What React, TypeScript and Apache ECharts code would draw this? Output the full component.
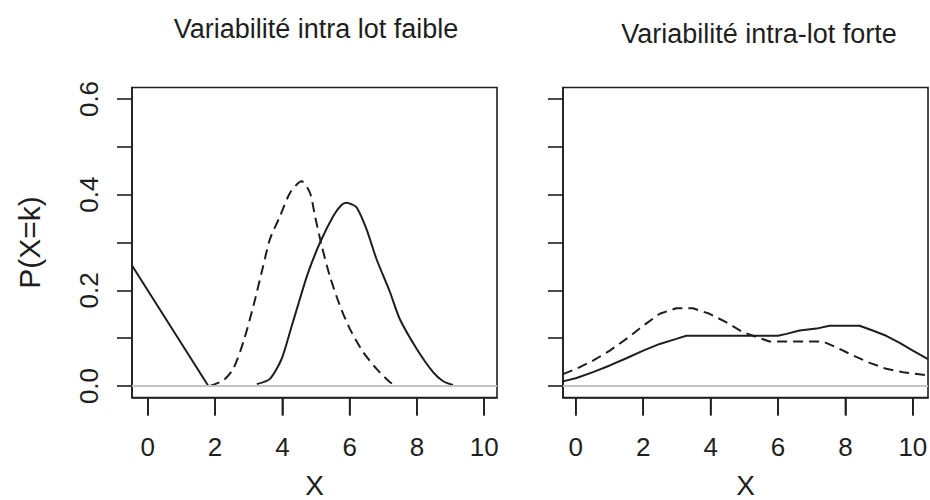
import React, { useEffect, useRef } from "react";
import * as echarts from "echarts";

// Left panel: "Variabilité intra lot faible"
const leftLineX = [-0.47, 1.8, 3.24];
const leftLineY = [0.252, 0, 0];
const leftSolidX = [3.24, 3.63, 3.98, 4.28, 4.52, 4.77, 5.12, 5.51, 5.75, 5.91, 6.05, 6.21, 6.5, 6.8, 7.2, 7.49, 7.99, 8.48, 8.78, 9.07];
const leftSolidY = [0.004, 0.015, 0.057, 0.126, 0.182, 0.238, 0.3, 0.355, 0.378, 0.383, 0.38, 0.373, 0.328, 0.265, 0.196, 0.14, 0.078, 0.029, 0.01, 0.002];
const leftDashX = [1.85, 2.25, 2.54, 2.84, 3.14, 3.43, 3.63, 3.93, 4.23, 4.57, 4.82, 4.97, 5.17, 5.41, 5.71, 6.01, 6.4, 6.8, 7.2, 7.45];
const leftDashY = [0, 0.012, 0.036, 0.092, 0.168, 0.251, 0.307, 0.355, 0.404, 0.428, 0.404, 0.355, 0.293, 0.23, 0.168, 0.119, 0.071, 0.036, 0.008, 0];

// Right panel: "Variabilité intra-lot forte"
const rightSolidX = [-0.38, 0.02, 0.51, 1.01, 1.5, 2.0, 2.49, 2.98, 3.28, 6.0, 6.25, 6.64, 7.14, 7.53, 8.42, 8.81, 9.21, 9.61, 10.0, 10.45];
const rightSolidY = [0.0097, 0.0167, 0.029, 0.043, 0.058, 0.074, 0.088, 0.0985, 0.105, 0.105, 0.109, 0.116, 0.12, 0.126, 0.126, 0.116, 0.105, 0.09, 0.074, 0.056];
const rightDashX = [-0.38, 0.02, 0.51, 1.01, 1.5, 2.0, 2.49, 2.98, 3.48, 3.97, 4.47, 4.96, 5.46, 5.75, 7.33, 7.73, 8.22, 8.72, 9.21, 9.71, 10.45];
const rightDashY = [0.025, 0.036, 0.053, 0.074, 0.0985, 0.126, 0.151, 0.1625, 0.1625, 0.151, 0.133, 0.1125, 0.1, 0.093, 0.093, 0.081, 0.064, 0.0485, 0.036, 0.029, 0.022];

const xTickStep = 2;
const xTicks = [0, 2, 4, 6, 8, 10];
const yTicks = [0, 0.1, 0.2, 0.3, 0.4, 0.5, 0.6];
const yLabels = [0, 0.2, 0.4, 0.6];
const titles = ["Variabilité intra lot faible", "Variabilité intra-lot forte"];

const zip = (xs: number[], ys: number[]) => xs.map((x, i) => [x, ys[i]]);

const FONT = "Liberation Sans, Arial, Helvetica, sans-serif";
const INK = "#1e1e1e";
const Y_MIN = -0.024;
const Y_MAX = 0.624;

export default function App() {
  const ref = useRef<HTMLDivElement>(null);
  useEffect(() => {
    if (!ref.current) return;
    const chart = echarts.init(ref.current, undefined, { renderer: "svg" });
    const xRanges = [
      [-0.47, 10.38],
      [-0.38, 10.45],
    ];
    const mkX = (i: number) => ({
      type: "value",
      gridIndex: i,
      min: xRanges[i][0],
      max: xRanges[i][1],
      splitNumber: 5,
      minInterval: xTickStep,
      maxInterval: xTickStep,
      name: "X",
      nameLocation: "middle",
      nameGap: 74,
      nameTextStyle: { fontSize: 28, color: INK, fontFamily: FONT },
      axisLine: { show: true, onZero: false, lineStyle: { color: INK, width: 1.6 } },
      splitLine: { show: false },
      axisTick: { show: true, length: 18, lineStyle: { color: INK, width: 1.6 } },
      axisLabel: { margin: 36, fontSize: 26, color: INK, fontFamily: FONT, showMinLabel: false, showMaxLabel: false },
    });
    const mkY = (i: number) => ({
      type: "value",
      gridIndex: i,
      position: "left",
      min: Y_MIN,
      max: Y_MAX,
      name: i === 0 ? "P(X=k)" : "",
      nameLocation: "middle",
      nameGap: 88,
      nameTextStyle: { fontSize: 30, color: INK, fontFamily: FONT },
      axisLine: { show: true, onZero: false, lineStyle: { color: INK, width: 1.6 } },
      splitLine: { show: false },
      axisTick: { show: true, inside: false, customValues: yTicks, length: 15, lineStyle: { color: INK, width: 1.6 } },
      axisLabel: {
        show: i === 0,
        customValues: yLabels,
        rotate: 90,
        margin: 30,
        fontSize: 26,
        color: INK,
        fontFamily: FONT,
        formatter: (v: number) => v.toFixed(1),
      },
    });
    const line = (i: number, data: number[][], dashed: boolean, smooth: number | boolean) => ({
      type: "line",
      xAxisIndex: i,
      yAxisIndex: i,
      data,
      showSymbol: false,
      symbol: "none",
      smooth,
      lineStyle: { color: INK, width: 2, type: dashed ? [10, 6] : "solid" },
      clip: true,
      silent: true,
      z: 2,
    });
    const zero = (i: number) => ({
      type: "line",
      xAxisIndex: i,
      yAxisIndex: i,
      data: [
        [xRanges[i][0], 0],
        [xRanges[i][1], 0],
      ],
      symbol: "none",
      lineStyle: { color: "#c4c4c4", width: 2 },
      silent: true,
      z: 3,
    });
    const gridBase = {
      top: 87.5,
      width: 365,
      height: 310,
      show: true,
      borderColor: INK,
      borderWidth: 1.6,
      backgroundColor: "transparent",
      containLabel: false,
      outerBoundsMode: "none",
    };
    chart.setOption({
      animation: false,
      backgroundColor: "#ffffff",
      textStyle: { fontFamily: FONT },
      title: [
        { text: titles[0], left: 311, top: 10, textAlign: "center", textStyle: { fontSize: 27, fontWeight: "normal", color: INK, fontFamily: FONT } },
        { text: titles[1], left: 754, top: 15, textAlign: "center", textStyle: { fontSize: 27, fontWeight: "normal", color: INK, fontFamily: FONT } },
      ],
      grid: [
        { ...gridBase, left: 132 },
        { ...gridBase, left: 563 },
      ],
      xAxis: [mkX(0), mkX(1)],
      yAxis: [mkY(0), mkY(1)],
      series: [
        line(0, zip(leftLineX, leftLineY), false, false),
        line(0, zip(leftSolidX, leftSolidY), false, 0.25),
        line(0, zip(leftDashX, leftDashY), true, 0.25),
        zero(0),
        line(1, zip(rightSolidX, rightSolidY), false, false),
        line(1, zip(rightDashX, rightDashY), true, false),
        zero(1),
      ],
    });
    // x-axis tick marks below each box, positioned through the axis scales
    const tickEls: any[] = [];
    [0, 1].forEach((g) => {
      xTicks.forEach((v) => {
        const p = chart.convertToPixel({ gridIndex: g } as any, [v, Y_MIN]) as number[];
        if (!p || !isFinite(p[0]) || !isFinite(p[1])) return;
        tickEls.push({
          type: "line",
          silent: true,
          z: 100,
          shape: { x1: p[0], y1: p[1], x2: p[0], y2: p[1] + 18 },
          style: { stroke: INK, lineWidth: 1.6 },
        });
      });
    });
    chart.setOption({ graphic: tickEls });
    return () => chart.dispose();
  }, []);
  return <div ref={ref} style={{ width: 930, height: 500, position: "absolute", left: 0, top: 0 }} />;
}
